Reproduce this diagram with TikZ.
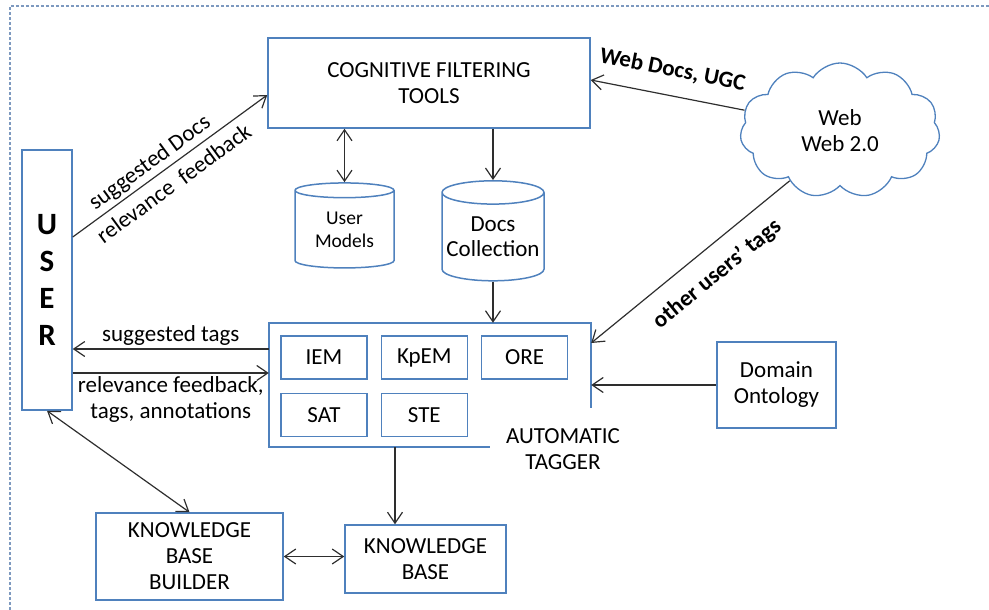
\documentclass[tikz,border=0pt]{standalone}
\usepackage{fontspec}
\setmainfont{Carlito}
\usetikzlibrary{arrows.meta,positioning,shapes.geometric,shapes.symbols}

\newlength{\du}
\setlength{\du}{1pt}

\definecolor{boxcolor}{rgb}{0.310000, 0.505000, 0.740000}
\definecolor{linecolor}{rgb}{0.180000, 0.180000, 0.180000}
\definecolor{framecolor}{rgb}{0.490000, 0.600000, 0.750000}

\tikzset{
  boxline/.style={draw=boxcolor, line width=1.5\du},
  box/.style={boxline, align=center, inner sep=0pt},
  module/.style={box, line width=1.3\du, minimum width=86\du, minimum height=43\du},
  db/.style={cylinder, shape border rotate=90, aspect=0.25, boxline, align=center, inner sep=0pt},
  webcloud/.style={cloud, cloud puffs=11, cloud puff arc=115, boxline, line width=1.3\du, align=center, inner sep=0pt},
  tag/.style={inner sep=1.5\du},
  barb/.tip={Straight Barb[length=11pt,width=15pt]},
  oneway/.style={draw=linecolor, line width=1.2\du, -barb},
  backway/.style={draw=linecolor, line width=1.2\du, barb-},
  twoway/.style={draw=linecolor, line width=1.2\du, barb-barb},
  frame/.style={draw=framecolor, line width=1.5\du, dash pattern=on 3pt off 2pt}
}

\begin{document}
\begin{tikzpicture}[x=\du, y=-\du, every node/.append style={font=\fontsize{23}{26}\selectfont, align=center}]
\useasboundingbox (0,0) rectangle (989,610);
% dotted frame round the figure
\draw[frame] (10,610) -- (10,6) -- (989,6);

% main blocks
\node[box, minimum width=322\du, minimum height=90\du] (cft) at (429,83) {COGNITIVE FILTERING\\TOOLS};
\node[box, minimum width=50\du, minimum height=260\du, font=\bfseries\fontsize{31}{37}\selectfont] (user) at (47,280) {U\\S\\E\\R};
\node[db, minimum width=99\du, minimum height=85\du, font=\fontsize{19.5}{23}\selectfont] (um) at (344.5,229.5) {User\\Models};
\node[db, minimum width=102\du, minimum height=100\du, font=\fontsize{23}{25}\selectfont] (dc) at (493,237) {Docs\\Collection};
\node[webcloud, minimum width=200\du, minimum height=135\du] (web) at (840,130.5) {Web\\Web 2.0};

% automatic tagger and its modules
\node[minimum width=322\du, minimum height=124\du, inner sep=0pt] (tagger) at (430,385) {};
\draw[boxline] ([xshift=221\du]tagger.south west) -- (tagger.south west) -- (tagger.north west)
  -- (tagger.north east) -- ([yshift=39\du]tagger.south east);
\node[module] (iem) at (324,357.5) {IEM};
\node[module, right=13\du of iem] (kpem) {KpEM};
\node[module, right=13\du of kpem] (ore) {ORE};
\node[module, below=13\du of iem] (sat) {SAT};
\node[module, below=13\du of kpem] (ste) {STE};
\node (autotag) at (563,449) {AUTOMATIC\\TAGGER};

\node[box, line width=2.5\du, minimum width=119\du, minimum height=86\du] (onto) at (776.5,385) {Domain\\Ontology};
\node[box, minimum width=187\du, minimum height=87\du] (kbb) at (189.5,556.5) {KNOWLEDGE\\BASE\\BUILDER};
\node[box, minimum width=161\du, minimum height=68\du] (kb) at (425.5,559) {KNOWLEDGE\\BASE};

% connectors
\draw[twoway] (um.north) -- (um.north |- cft.south);
\draw[oneway] (dc.north |- cft.south) -- (dc.north);
\draw[oneway] (dc.south) -- (dc.south |- tagger.north);
\draw[oneway] ([yshift=43\du]user.east) -- node[tag, pos=0.44, sloped, above=2\du] (sugdocs) {suggested Docs}
  node[tag, pos=0.47, sloped, below=6\du] (relfb) {relevance\ \ feedback} ([yshift=-12\du]cft.west);
\draw[backway] ([yshift=3\du]cft.east) -- node[tag, sloped, above=14\du] (webdocs) {\bfseries Web Docs, UGC} (web.168);
\draw[backway] ([yshift=42\du]tagger.east) -- node[tag, pos=0.55, sloped, below=14\du] (othertags) {\bfseries other users' tags} (web.225);
\draw[backway] (tagger.east) -- (onto.west);
\draw[oneway] ([yshift=36\du]tagger.west) -- node[above] (sugtags) {suggested tags} ([yshift=-69\du]user.east);
\draw[oneway] ([yshift=-93\du]user.east) -- node[below, inner sep=3\du] (usrfb) {relevance feedback,\\tags, annotations} ([yshift=12\du]tagger.west);
\draw[twoway] (user.south) -- (kbb.north);
\draw[oneway] ([xshift=-35\du]tagger.south) -- ([xshift=-35\du]tagger.south |- kb.north);
\draw[twoway] (kbb.east) -- (kbb.east -| kb.west);
\end{tikzpicture}
\end{document}
